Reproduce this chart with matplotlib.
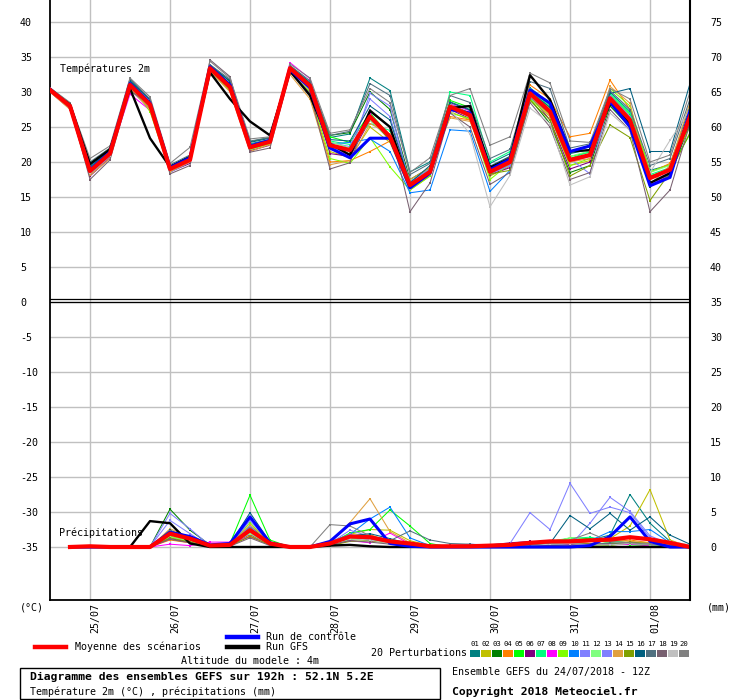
import numpy as np
import matplotlib
matplotlib.use('Agg')
import matplotlib.pyplot as plt
from matplotlib.lines import Line2D
from matplotlib.patches import Rectangle
from matplotlib.transforms import ScaledTranslation

# %% data : GEFS ensemble 24/07/2018 12Z, 52.1N 5.2E
hours = np.arange(0, 193, 6)          # 33 steps, every 6h
rain_hours = hours[1:]                # precip per 6h interval
day_hours = [12, 36, 60, 84, 108, 132, 156, 180]
day_labels = ['25/07', '26/07', '27/07', '28/07', '29/07', '30/07', '31/07', '01/08']

# temperature 2m (degC)
t_mean = [30.3, 28.0, 18.7, 21.2, 31.0, 28.2, 19.0, 20.3, 33.4, 30.7, 22.1, 22.9, 33.4, 30.9, 22.4, 21.7, 26.5,
          23.6, 16.7, 18.6, 27.9, 26.7, 18.6, 20.0, 29.8, 27.2, 20.3, 21.0, 29.1, 26.0, 17.7, 18.9, 26.5]
t_ctrl = [30.4, 28.0, 18.9, 21.4, 31.2, 28.4, 19.2, 20.6, 33.6, 31.0, 22.3, 23.1, 33.2, 30.6, 22.0, 20.6, 23.4,
          23.4, 16.3, 18.4, 27.5, 27.0, 18.9, 20.4, 30.3, 28.4, 21.5, 22.3, 28.6, 25.0, 16.6, 17.8, 27.3]
t_gfs = [30.2, 28.2, 19.7, 21.8, 30.5, 23.4, 19.3, 20.7, 32.8, 29.0, 25.8, 23.8, 33.0, 29.5, 22.6, 21.0, 27.3,
         25.0, 16.5, 18.5, 27.7, 28.0, 19.2, 20.5, 32.4, 28.9, 21.5, 21.7, 28.4, 25.5, 17.0, 18.4, 27.0]

t01 = [30.5, 28.2, 19.5, 21.8, 31.8, 28.8, 19.4, 20.9, 33.8, 31.2, 22.6, 23.2, 33.6, 31.2, 23.5, 24.0, 32.0,
       30.2, 18.6, 20.0, 28.6, 27.5, 19.8, 21.2, 30.6, 28.4, 21.4, 22.2, 30.0, 27.2, 18.8, 19.6, 28.0]
t02 = [30.1, 27.8, 18.2, 20.8, 30.6, 27.8, 18.8, 20.0, 33.2, 30.4, 21.8, 22.7, 33.0, 30.2, 21.5, 20.6, 25.0,
       22.8, 16.0, 18.0, 27.2, 26.0, 18.0, 19.4, 29.2, 26.8, 19.5, 20.2, 28.4, 25.6, 16.8, 18.2, 25.8]
t03 = [30.4, 28.3, 19.8, 22.0, 31.5, 28.9, 19.3, 20.6, 33.9, 31.5, 22.9, 23.5, 33.5, 31.0, 23.8, 24.2, 30.0,
       27.5, 17.5, 19.2, 28.2, 27.0, 18.4, 19.6, 29.0, 25.5, 18.5, 19.5, 28.0, 25.0, 16.5, 18.0, 25.5]
t04 = [30.2, 27.9, 18.5, 21.0, 30.9, 28.1, 18.9, 20.2, 33.3, 30.6, 22.0, 22.8, 33.2, 29.5, 20.0, 20.2, 21.5,
       23.0, 16.8, 18.8, 26.5, 26.0, 19.2, 20.8, 31.0, 29.0, 23.6, 24.1, 31.7, 27.5, 18.5, 19.8, 27.2]
t05 = [30.3, 28.1, 19.0, 21.5, 31.3, 28.0, 19.2, 20.5, 33.6, 30.9, 22.4, 23.0, 33.4, 31.1, 23.6, 22.8, 27.0,
       23.8, 16.5, 18.4, 28.8, 27.8, 18.8, 20.2, 30.2, 27.8, 20.8, 21.4, 29.6, 26.8, 18.0, 19.0, 24.0]
t06 = [30.0, 27.6, 18.0, 20.6, 30.4, 27.6, 18.6, 19.8, 33.0, 30.2, 21.6, 22.4, 33.2, 30.6, 21.2, 20.8, 26.0,
       23.2, 16.2, 18.2, 27.5, 26.2, 18.2, 19.2, 29.5, 26.0, 19.0, 20.0, 28.6, 25.2, 16.8, 18.0, 26.0]
t07 = [30.6, 28.4, 19.2, 21.6, 31.4, 28.6, 19.3, 20.7, 33.7, 31.0, 22.5, 23.1, 33.6, 31.3, 23.0, 22.5, 25.5,
       24.5, 17.2, 19.0, 30.0, 29.5, 20.0, 21.5, 30.5, 28.0, 20.5, 21.5, 29.8, 27.0, 18.2, 19.2, 27.0]
t08 = [30.2, 27.7, 18.4, 20.9, 29.7, 27.4, 18.9, 20.1, 33.1, 30.5, 22.0, 22.8, 34.2, 31.9, 22.0, 21.0, 26.8,
       23.5, 16.4, 18.2, 28.3, 27.3, 18.5, 19.6, 29.6, 27.0, 20.0, 20.8, 28.8, 25.5, 16.6, 18.4, 26.8]
t09 = [30.3, 28.0, 18.9, 21.3, 31.2, 27.2, 18.7, 21.0, 33.0, 30.2, 21.8, 22.6, 33.0, 30.0, 20.5, 19.8, 23.5,
       19.3, 16.0, 18.0, 27.0, 26.2, 17.5, 19.8, 29.0, 26.5, 19.5, 20.5, 30.5, 28.0, 18.6, 19.6, 25.0]
t10 = [30.4, 28.1, 18.6, 21.1, 30.9, 28.3, 19.1, 20.4, 33.5, 30.8, 22.2, 23.0, 33.3, 30.8, 22.6, 22.8, 23.3,
       21.5, 15.6, 16.0, 24.6, 24.4, 15.8, 18.8, 29.2, 27.0, 20.2, 21.2, 28.5, 25.8, 17.0, 18.2, 27.5]
t11 = [30.1, 27.9, 18.3, 20.8, 30.7, 28.1, 18.5, 20.0, 33.4, 30.8, 22.2, 22.9, 33.6, 31.2, 22.8, 22.2, 29.0,
       26.5, 17.2, 19.0, 28.0, 26.8, 19.2, 20.5, 29.5, 27.0, 20.5, 18.3, 29.0, 26.2, 17.0, 18.6, 26.0]
t12 = [30.5, 28.2, 19.1, 21.5, 31.1, 28.5, 19.2, 20.6, 33.4, 30.7, 22.3, 23.0, 33.5, 31.0, 22.9, 22.0, 26.0,
       23.2, 16.8, 18.7, 28.2, 26.9, 18.9, 20.3, 30.2, 27.6, 20.8, 21.6, 29.4, 26.5, 18.5, 19.5, 26.8]
t13 = [30.2, 28.0, 18.6, 21.0, 31.4, 28.7, 19.0, 20.3, 33.6, 31.1, 22.4, 23.1, 33.3, 30.9, 22.2, 21.0, 29.8,
       28.0, 16.5, 18.4, 27.8, 27.0, 18.3, 19.5, 29.4, 27.3, 20.0, 21.0, 29.5, 26.5, 16.8, 18.3, 27.0]
t14 = [30.0, 27.5, 18.1, 20.5, 30.5, 27.5, 18.6, 20.0, 33.0, 30.0, 21.5, 22.5, 32.5, 29.0, 19.6, 20.2, 25.5,
       24.0, 17.5, 19.2, 26.3, 25.8, 19.0, 20.0, 29.4, 26.5, 20.0, 20.5, 30.8, 28.4, 16.8, 19.5, 28.5]
t15 = [30.3, 28.0, 18.8, 21.2, 31.0, 28.0, 19.0, 20.4, 33.3, 30.5, 22.0, 22.8, 33.4, 30.8, 22.2, 21.5, 26.5,
       23.0, 16.6, 18.6, 27.8, 26.4, 18.3, 18.8, 28.8, 26.0, 18.0, 19.5, 25.3, 23.5, 14.5, 18.5, 24.2]
t16 = [30.4, 28.2, 19.3, 21.7, 31.6, 28.9, 19.4, 20.8, 33.8, 31.6, 22.8, 23.4, 33.7, 31.4, 23.2, 23.0, 28.0,
       26.0, 17.0, 19.5, 28.5, 27.4, 19.4, 20.8, 30.0, 27.8, 21.2, 21.8, 29.8, 30.5, 21.5, 21.5, 31.2]
t17 = [30.5, 28.3, 20.0, 22.0, 31.9, 29.0, 19.6, 21.0, 33.9, 31.8, 23.0, 23.5, 33.8, 31.6, 23.8, 24.4, 31.2,
       29.5, 18.2, 19.8, 29.5, 28.5, 20.5, 21.8, 31.5, 30.5, 22.0, 22.6, 30.2, 27.5, 19.5, 20.5, 29.0]
t18 = [30.6, 28.0, 17.5, 20.3, 30.2, 28.2, 18.3, 19.5, 34.6, 32.2, 21.4, 22.0, 32.8, 29.8, 19.0, 19.9, 27.5,
       25.0, 12.9, 17.0, 27.0, 25.0, 16.8, 18.5, 28.5, 25.0, 17.5, 18.5, 27.5, 24.5, 12.9, 16.0, 25.5]
t19 = [30.1, 27.9, 18.4, 20.9, 30.8, 28.0, 18.8, 20.2, 33.2, 30.6, 22.0, 22.8, 32.9, 30.3, 21.8, 21.2, 26.2,
       23.8, 16.2, 18.4, 27.5, 24.0, 13.6, 18.1, 27.7, 25.5, 16.7, 17.9, 27.0, 24.5, 18.5, 23.1, 27.5]
t20 = [30.6, 28.5, 20.5, 22.3, 32.0, 29.3, 19.8, 22.1, 34.4, 32.0, 23.3, 23.6, 34.0, 32.0, 24.1, 24.6, 30.5,
       28.5, 18.5, 20.6, 29.5, 30.5, 22.4, 23.6, 32.7, 31.3, 23.0, 22.8, 30.5, 29.0, 20.0, 21.0, 30.0]

# precipitation (mm / 6h), from +6h to +192h
p_mean = [0, 0.1, 0, 0, 0, 1.9, 1.2, 0.2, 0.3, 2.4, 0.5, 0, 0, 0.5, 1.5, 1.4,
          0.8, 0.5, 0.1, 0.1, 0.1, 0.2, 0.3, 0.6, 0.8, 0.8, 0.95, 1.05, 1.4, 1.1, 0.6, 0]
p_ctrl = [0, 0, 0, 0, 0, 2.1, 1.5, 0.3, 0.5, 4.3, 0.6, 0, 0, 0.8, 3.3, 4.0,
          0.5, 0.1, 0, 0, 0, 0, 0, 0, 0, 0, 0.2, 1.5, 4.3, 0.8, 0, 0]
p_gfs = [0, 0, 0, 0, 3.7, 3.4, 0.5, 0, 0, 0, 0, 0, 0, 0.2, 0.3, 0.1,
         0, 0, 0, 0, 0, 0, 0, 0, 0, 0, 0, 0, 0, 0, 0, 0]

p01 = [0, 0.1, 0, 0, 0, 2.2, 1.5, 0.3, 0.4, 3.0, 0.5, 0, 0, 0.4, 1.2, 1.0, 0.6, 0.3, 0.1, 0, 0, 0, 0, 0.2, 0.5, 0.8, 1.0, 1.7, 7.5, 3.4, 0.8, 0]
p02 = [0, 0, 0, 0, 0, 1.5, 0.8, 0, 0.2, 2.0, 0.4, 0, 0, 0.6, 1.8, 2.5, 2.4, 0.9, 0.2, 0, 0, 0, 0.2, 0.4, 0.6, 0.5, 0.8, 1.2, 3.0, 8.2, 1.0, 0]
p03 = [0, 0.2, 0, 0, 0, 5.4, 2.4, 0.3, 0.3, 2.8, 0.6, 0, 0, 0.3, 1.0, 1.2, 0.4, 0.2, 0, 0, 0, 0.1, 0.3, 0.4, 0.2, 0.4, 0.3, 0.4, 0.6, 0.3, 0.1, 0]
p04 = [0, 0, 0, 0, 0, 1.0, 0.6, 0.1, 0.2, 1.6, 0.3, 0, 0, 0.8, 1.6, 1.8, 0.6, 0.2, 0, 0, 0, 0, 0.1, 0.5, 0.8, 1.2, 0.9, 0.7, 1.0, 0.6, 0.4, 0]
p05 = [0, 0, 0, 0, 0, 1.8, 1.0, 0.2, 0.5, 7.4, 1.0, 0, 0, 0.5, 2.0, 2.5, 5.3, 3.0, 0.5, 0, 0, 0, 0.2, 0.3, 0.6, 1.3, 1.2, 0.6, 0.3, 0.2, 0.1, 0]
p06 = [0, 0.1, 0, 0, 0, 1.2, 0.7, 0, 0.3, 1.8, 0.3, 0, 0, 0.2, 1.0, 1.3, 0.8, 0.3, 0.1, 0.2, 0.1, 0.3, 0.6, 0.8, 0.4, 0.3, 0.2, 0.5, 0.4, 0.3, 0.2, 0]
p07 = [0, 0, 0, 0, 0, 2.0, 1.3, 0.2, 0.2, 2.2, 0.5, 0, 0, 0.4, 1.4, 1.1, 0.7, 0.5, 0.1, 0, 0, 0, 0.1, 0.3, 0.8, 1.2, 1.4, 0.9, 0.6, 0.3, 0.1, 0]
p08 = [0, 0.1, 0, 0, 0, 0.4, 0.2, 0.7, 0.7, 1.4, 0.5, 0, 0, 0.3, 0.9, 0.6, 2.0, 0.4, 0, 0, 0, 0, 0.1, 0.2, 0.3, 0.4, 0.5, 0.3, 0.4, 0.2, 0.1, 0]
p09 = [0, 0, 0, 0, 0, 1.6, 0.9, 0.1, 0.2, 3.5, 0.4, 0, 0, 0.2, 1.5, 1.6, 1.0, 0.3, 0, 0, 0, 0, 0.1, 0.3, 0.4, 0.5, 0.3, 0.2, 0.6, 0.4, 0.2, 0]
p10 = [0, 0, 0, 0, 0, 1.9, 1.1, 0.2, 0.3, 2.6, 0.6, 0, 0, 0.7, 1.8, 4.0, 5.7, 1.3, 0.2, 0, 0, 0, 0.2, 0.4, 0.3, 0.6, 0.9, 2.2, 2.2, 2.5, 0.6, 0]
p11 = [0, 0, 0, 0, 0, 4.8, 2.6, 0.2, 0.3, 2.9, 0.4, 0, 0, 0.5, 2.4, 1.5, 0.8, 0.3, 0.1, 0.2, 0.4, 0.3, 0.5, 4.9, 2.5, 9.1, 4.8, 5.7, 4.9, 1.3, 0.3, 0]
p12 = [0, 0, 0, 0, 0, 1.4, 0.8, 0.1, 0.3, 1.9, 0.3, 0, 0, 0.3, 1.1, 1.0, 0.6, 0.2, 0, 0, 0, 0, 0.1, 0.3, 0.8, 1.3, 1.0, 0.6, 0.5, 0.3, 0.1, 0]
p13 = [0, 0, 0, 0, 0, 3.8, 1.9, 0.1, 0.2, 3.8, 0.5, 0, 0, 0.4, 1.8, 1.2, 0.5, 0.2, 0, 0.1, 0.2, 0.3, 0.4, 0.6, 0.5, 0.2, 3.4, 7.1, 5.1, 1.6, 0.4, 0]
p14 = [0, 0, 0, 0, 0, 2.6, 1.4, 0.1, 0.3, 3.2, 0.6, 0, 0, 0.6, 3.5, 6.9, 2.2, 0.6, 0.1, 0, 0, 0, 0.2, 0.4, 0.7, 0.9, 0.8, 1.0, 0.8, 0.6, 0.3, 0]
p15 = [0, 0, 0, 0, 0, 1.3, 0.7, 0.1, 0.2, 1.5, 0.3, 0, 0, 0.2, 0.8, 0.9, 0.5, 0.2, 0, 0, 0, 0, 0.1, 0.2, 0.4, 0.6, 0.5, 0.4, 0.7, 0.5, 0.2, 0]
p16 = [0, 0, 0, 0, 0, 2.4, 1.2, 0.2, 0.4, 4.9, 0.7, 0, 0, 0.5, 1.6, 1.9, 1.2, 0.4, 0.1, 0, 0, 0, 0.2, 0.3, 0.5, 4.5, 2.6, 4.8, 2.4, 4.3, 1.7, 0.4]
p17 = [0, 0, 0, 0, 0, 2.0, 1.0, 0.1, 0.2, 2.4, 0.4, 0, 0, 0.4, 1.3, 1.0, 0.9, 2.3, 1.0, 0.5, 0.4, 0.2, 0.3, 0.6, 0.4, 0.5, 0.3, 0.6, 0.5, 0.4, 0.2, 0]
p18 = [0, 0.1, 0, 0, 0, 1.1, 0.6, 0, 0.1, 1.3, 0.2, 0, 0, 0.3, 0.9, 0.7, 0.4, 0.2, 0, 0, 0, 0, 0, 0.1, 0.2, 0.3, 0.4, 0.3, 0.6, 0.4, 0.3, 0]
p19 = [0, 0, 0, 0, 0, 1.7, 1.0, 0.1, 0.2, 2.1, 0.4, 0, 0, 0.4, 1.2, 1.0, 0.5, 0.2, 0, 0, 0, 0, 0.1, 0.2, 0.4, 0.5, 0.3, 0.3, 0.5, 0.4, 0.8, 0.3]
p20 = [0, 0.1, 0, 0, 0, 2.3, 1.3, 0.2, 0.3, 2.7, 0.5, 0, 0, 3.2, 3.0, 1.6, 0.7, 0.5, 0.2, 0, 0, 0, 0.2, 0.3, 0.6, 1.0, 2.0, 0.8, 0.6, 0.4, 0.2, 0]

member_names = ['01', '02', '03', '04', '05', '06', '07', '08', '09', '10',
                '11', '12', '13', '14', '15', '16', '17', '18', '19', '20']
member_colors = ['#008080', '#c0c000', '#008000', '#ff8000', '#00ff00', '#800080', '#00ff80', '#ff00ff',
                 '#80ff00', '#0080ff', '#8080ff', '#80ff80', '#8080ff', '#e0a040', '#80a000', '#006080',
                 '#507080', '#786070', '#c0c0c0', '#808080']
t_members = [t01, t02, t03, t04, t05, t06, t07, t08, t09, t10, t11, t12, t13, t14, t15, t16, t17, t18, t19, t20]
p_members = [p01, p02, p03, p04, p05, p06, p07, p08, p09, p10, p11, p12, p13, p14, p15, p16, p17, p18, p19, p20]

RAIN_OFFSET = 35   # precip drawn on the same axis, 0 mm at -35

# %% figure
W, H = 740, 700
mono = 'DejaVu Sans Mono'
plt.rcParams['font.family'] = mono
plt.rcParams['font.size'] = 7.2
plt.rcParams['axes.unicode_minus'] = False   # plain hyphen like the original

def fx(x):
    return x / W

def fy(y):
    return 1 - y / H

def ty(y):  # pixel row -> temperature units
    return (302 - y) / 7.0

fig = plt.figure(figsize=(W / 100, H / 100), dpi=100)
ax = fig.add_axes([fx(50), fy(600), 640 / W, 600 / H])
ax.set_xlim(0, 192)
ax.set_ylim(ty(600), ty(0))

ax.set_yticks(range(-35, 45, 5))
ax.set_xticks(day_hours)
ax.set_xticklabels(day_labels, rotation=90, va='top')
ax.grid(True, color='#c0c0c0', lw=1)
ax.set_axisbelow(True)
ax.tick_params(axis='y', length=0, pad=21.6)
ax.tick_params(axis='x', length=0, pad=2)
for lab in ax.get_yticklabels():
    lab.set_ha('left')
for lab in ax.get_xticklabels():
    lab.set_transform(lab.get_transform() + ScaledTranslation(5 / 100, 0, fig.dpi_scale_trans))

for s in ['left', 'bottom']:
    ax.spines[s].set_linewidth(1.3)
ax.spines['top'].set_visible(False)
ax.spines['right'].set_visible(False)

ax2 = ax.twinx()
ax2.set_ylim(ty(600) + RAIN_OFFSET, ty(0) + RAIN_OFFSET)
ax2.set_yticks(range(0, 80, 5))
ax2.tick_params(axis='y', length=0, pad=14.4)
for s in ['left', 'bottom', 'top']:
    ax2.spines[s].set_visible(False)
ax2.spines['right'].set_linewidth(1.5)

# panel separator (double line)
ax.axhline(ty(299), color='k', lw=0.9, zorder=3)
ax.axhline(ty(301.5), color='k', lw=0.9, zorder=3)

# members
for tm, pm, c in zip(t_members, p_members, member_colors):
    ax.plot(hours, tm, color=c, lw=0.75, marker='s', ms=1.6, mew=0, zorder=4)
    ax.plot(rain_hours, np.array(pm) - RAIN_OFFSET, color=c, lw=0.75, marker='s', ms=1.6, mew=0, zorder=4)

ax.plot(hours, t_gfs, color='black', lw=1.7, zorder=5)
ax.plot(rain_hours, np.array(p_gfs) - RAIN_OFFSET, color='black', lw=1.7, zorder=5)
ax.plot(hours, t_ctrl, color='#0000ff', lw=2.2, zorder=6)
ax.plot(rain_hours, np.array(p_ctrl) - RAIN_OFFSET, color='#0000ff', lw=2.2, zorder=6)
ax.plot(hours, t_mean, color='#ff0000', lw=3.0, zorder=7)
ax.plot(rain_hours, np.array(p_mean) - RAIN_OFFSET, color='#ff0000', lw=3.0, zorder=7)

# panel titles
fig.text(fx(60), fy(69), 'Températures 2m', va='center', ha='left')
fig.text(fx(59), fy(533), 'Précipitations', va='center', ha='left', zorder=1)
fig.text(fx(20), fy(607), '(°C)', va='center', ha='left')
fig.text(fx(707), fy(607), '(mm)', va='center', ha='left')

# legend
fig.add_artist(Line2D([fx(35), fx(66)], [fy(647), fy(647)], color='#ff0000', lw=3.2))
fig.text(fx(75), fy(647), 'Moyenne des scénarios', va='center', ha='left')
fig.add_artist(Line2D([fx(227), fx(258)], [fy(637), fy(637)], color='#0000ff', lw=3.2))
fig.text(fx(266), fy(637), 'Run de contrôle', va='center', ha='left')
fig.add_artist(Line2D([fx(227), fx(258)], [fy(647), fy(647)], color='black', lw=3.2))
fig.text(fx(266), fy(647), 'Run GFS', va='center', ha='left')
fig.text(fx(181), fy(661), 'Altitude du modele : 4m', va='center', ha='left')
fig.text(fx(467), fy(653), '20 Perturbations', va='center', ha='right')
for k, (name, c) in enumerate(zip(member_names, member_colors)):
    x0 = 470 + 11 * k
    fig.add_artist(Rectangle((fx(x0), fy(657)), 10 / W, 7 / H, color=c, lw=0))
    fig.text(fx(x0 + 5), fy(644), name, va='center', ha='center', fontsize=5.2)

# title box
fig.add_artist(Rectangle((fx(20), fy(699)), 420 / W, 31 / H, fill=False, ec='black', lw=1))
fig.text(fx(30), fy(677), 'Diagramme des ensembles GEFS sur 192h : 52.1N 5.2E',
         va='center', ha='left', fontsize=8.2, fontweight='bold')
fig.text(fx(30), fy(692), 'Température 2m (°C) , précipitations (mm)', va='center', ha='left')
fig.text(fx(452), fy(672), 'Ensemble GEFS du 24/07/2018 - 12Z', va='center', ha='left')
fig.text(fx(452), fy(692), 'Copyright 2018 Meteociel.fr', va='center', ha='left',
         fontsize=8.2, fontweight='bold')

fig.savefig('out.png', dpi=100)
